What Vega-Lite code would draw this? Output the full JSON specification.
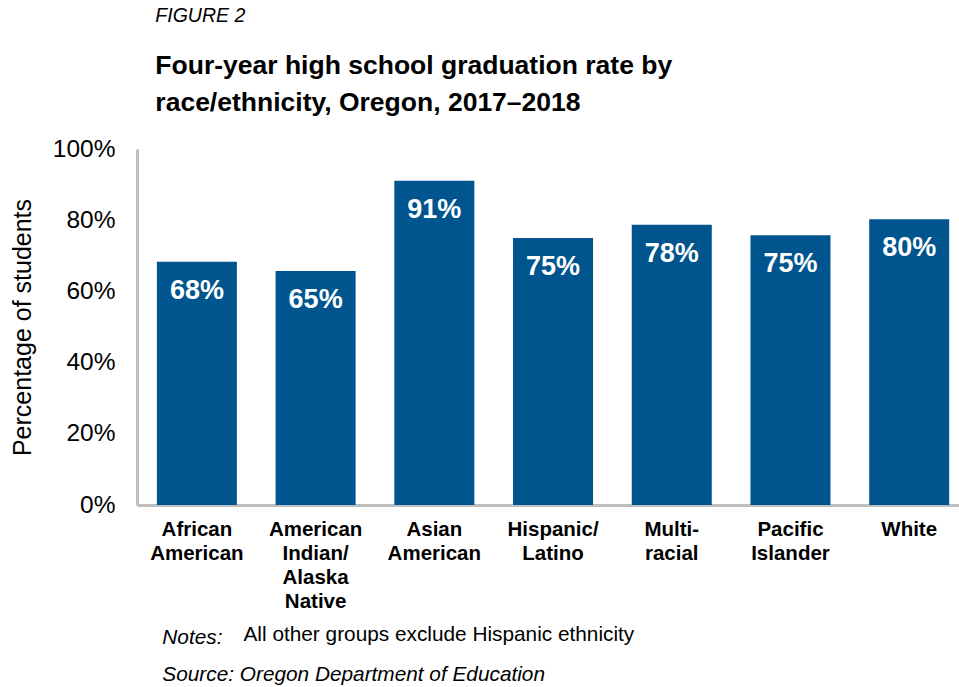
{
  "$schema": "https://vega.github.io/schema/vega-lite/v6.json",
  "background": "white",
  "padding": {"left": 10, "top": 6, "right": 0, "bottom": 0},
  "config": {"font": "Liberation Sans", "view": {"stroke": null}},
  "title": {
    "text": "FIGURE 2",
    "subtitle": ["Four-year high school graduation rate by", "race/ethnicity, Oregon, 2017–2018"],
    "anchor": "start",
    "frame": "bounds",
    "dx": 145,
    "font": "Liberation Sans",
    "fontSize": 19.5,
    "fontStyle": "italic",
    "fontWeight": "normal",
    "color": "black",
    "subtitleFont": "Liberation Sans",
    "subtitleFontSize": 26.5,
    "subtitleFontWeight": "bold",
    "subtitleColor": "black",
    "subtitleLineHeight": 37,
    "subtitlePadding": 26,
    "offset": 19
  },
  "vconcat": [
    {
      "width": 822,
      "height": 356,
      "data": {
        "values": [
          {"group": "African American", "rate": 68.3, "label": "68%"},
          {"group": "American Indian/Alaska Native", "rate": 65.7, "label": "65%"},
          {"group": "Asian American", "rate": 91.1, "label": "91%"},
          {"group": "Hispanic/Latino", "rate": 75.0, "label": "75%"},
          {"group": "Multiracial", "rate": 78.7, "label": "78%"},
          {"group": "Pacific Islander", "rate": 75.8, "label": "75%"},
          {"group": "White", "rate": 80.3, "label": "80%"}
        ]
      },
      "title": {
        "text": "Notes:",
        "subtitle": "Source: Oregon Department of Education",
        "orient": "bottom",
        "anchor": "start",
        "frame": "bounds",
        "dx": 152,
        "dy": -20,
        "font": "Liberation Sans",
        "fontSize": 20.8,
        "fontStyle": "italic",
        "fontWeight": "normal",
        "color": "black",
        "subtitleFont": "Liberation Sans",
        "subtitleFontSize": 20.8,
        "subtitleFontStyle": "italic",
        "subtitleColor": "black",
        "subtitlePadding": 16
      },
      "encoding": {
        "x": {
          "field": "group",
          "type": "nominal",
          "sort": null,
          "scale": {"paddingInner": 0.326, "paddingOuter": 0.125, "align": 0.67},
          "axis": {
            "title": "All other groups exclude Hispanic ethnicity",
            "titleFontSize": 20.8,
            "titleFontWeight": "normal",
            "titleColor": "black",
            "titleAlign": "left",
            "titleAnchor": "start",
            "titleX": 106,
            "titleY": 135,
            "titleBaseline": "alphabetic",
            "labelAngle": 0,
            "labelFontSize": 20.5,
            "labelFontWeight": "bold",
            "labelColor": "black",
            "labelLineHeight": 24,
            "labelPadding": 14,
            "labelExpr": "datum.value == 'Multiracial' ? ['Multi-', 'racial'] : split(replace(datum.value, '/', '/ '), ' ')",
            "ticks": false,
            "domainColor": "#BFBFBF",
            "domainWidth": 3
          }
        },
        "y": {
          "field": "rate",
          "type": "quantitative",
          "scale": {"domain": [0, 100], "nice": false},
          "axis": {
            "title": "Percentage of students",
            "titleFontSize": 25,
            "titleFontWeight": "normal",
            "titleColor": "black",
            "titlePadding": 17,
            "values": [0, 20, 40, 60, 80, 100],
            "labelExpr": "datum.value + '%'",
            "labelFontSize": 24.5,
            "labelColor": "black",
            "labelPadding": 22,
            "ticks": false,
            "grid": false,
            "domainColor": "#BFBFBF",
            "domainWidth": 3
          }
        }
      },
      "layer": [
        {"mark": {"type": "bar", "color": "#00558F"}},
        {
          "mark": {"type": "text", "color": "white", "fontWeight": "bold", "fontSize": 27, "baseline": "middle", "dy": 29},
          "encoding": {"text": {"field": "label"}}
        }
      ]
    }
  ]
}
